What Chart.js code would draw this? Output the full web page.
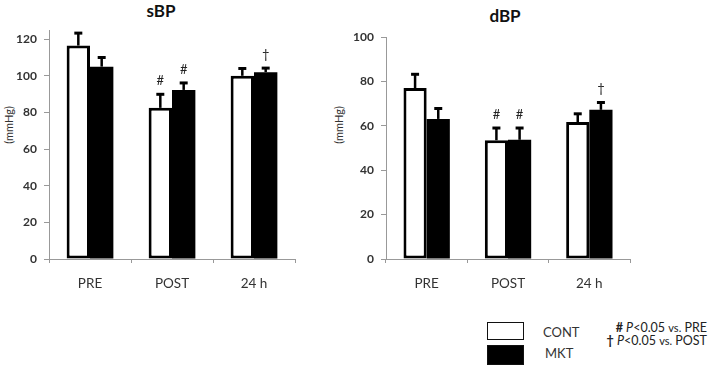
<!DOCTYPE html>
<html>
<head>
<meta charset="utf-8">
<script src="https://cdn.jsdelivr.net/npm/chart.js@4/dist/chart.umd.min.js"></script>
<style>
  html, body { margin: 0; padding: 0; background: #fff; }
  body { width: 709px; height: 365px; position: relative; overflow: hidden; font-family: Lato, "Open Sans", sans-serif; color: #222; }
  .abs { position: absolute; }
  .title { font-weight: bold; font-size: 17px; color: #111; transform: translate(-50%, -50%); white-space: nowrap; }
  .ylab { font-size: 11px; color: #333; transform: translate(-50%, -50%) rotate(-90deg); white-space: nowrap; }
  .box { position: absolute; border: 1.5px solid #111; box-sizing: border-box; }
  .leg { font-size: 13px; color: #333; transform: translateY(-50%); white-space: nowrap; }
  .note { font-size: 12.5px; color: #222; white-space: nowrap; text-align: right; transform: translateY(-50%); }
  .note .s { font-size: 11px; }
</style>
</head>
<body>
<div class="abs title" style="left:161px; top:10px;">sBP</div>
<div class="abs title" style="left:505px; top:15px;">dBP</div>
<div class="abs ylab" style="left:8px; top:125px;">(mmHg)</div>
<div class="abs ylab" style="left:338px; top:125px;">(mmHg)</div>

<canvas id="c1" class="abs" style="left:0; top:0;"></canvas>
<canvas id="c2" class="abs" style="left:330px; top:0;"></canvas>

<div class="box" style="left:487px; top:322px; width:37px; height:18px; background:#fff;"></div>
<div class="box" style="left:487px; top:345px; width:37px; height:20px; background:#000;"></div>
<div class="abs leg" style="left:543px; top:332px;">CONT</div>
<div class="abs leg" style="left:545px; top:353px;">MKT</div>
<div class="abs note" style="right:2px; top:327px;"><b>#</b> <i>P</i>&lt;0.05 <span class="s">vs.</span> PRE</div>
<div class="abs note" style="right:2px; top:340px;"><b>†</b> <i>P</i>&lt;0.05 <span class="s">vs.</span> POST</div>

<script>
const categories = ['PRE', 'POST', '24 h'];
const seriesNames = ['CONT', 'MKT'];

const sbpCont = [116.5, 82.5, 100];
const sbpContErr = [6.8, 7.4, 4];
const sbpMkt = [105, 92.3, 102];
const sbpMktErr = [5, 3.8, 2.2];
const sbpContMarks = ['', '#', ''];
const sbpMktMarks = ['', '#', '†'];
const sbpTicks = [0, 20, 40, 60, 80, 100, 120];

const dbpCont = [77, 53.5, 61.7];
const dbpContErr = [6.2, 5.5, 3.7];
const dbpMkt = [63.1, 53.7, 67.2];
const dbpMktErr = [4.7, 5.3, 3.3];
const dbpContMarks = ['', '#', ''];
const dbpMktMarks = ['', '#', '†'];
const dbpTicks = [0, 20, 40, 60, 80, 100];

const errorBarPlugin = {
  id: 'errorBars',
  afterDatasetsDraw(chart) {
    const ctx = chart.ctx;
    const ys = chart.scales.y;
    chart.data.datasets.forEach((ds, di) => {
      const meta = chart.getDatasetMeta(di);
      meta.data.forEach((bar, i) => {
        const v = ds.data[i];
        const e = ds.errors[i];
        const x = bar.x;
        const yTop = ys.getPixelForValue(v + e);
        const yBar = ys.getPixelForValue(v);
        ctx.save();
        ctx.strokeStyle = '#000';
        ctx.lineWidth = 2.5;
        ctx.beginPath();
        ctx.moveTo(x, yBar);
        ctx.lineTo(x, yTop);
        ctx.stroke();
        ctx.lineWidth = 3;
        ctx.beginPath();
        ctx.moveTo(x - 4, yTop);
        ctx.lineTo(x + 4, yTop);
        ctx.stroke();
        const m = ds.marks[i];
        if (m) {
          ctx.fillStyle = '#222';
          ctx.font = '13px Lato, "Open Sans", sans-serif';
          ctx.textAlign = 'center';
          ctx.textBaseline = 'middle';
          ctx.fillText(m, x, yTop - 13.5);
        }
        ctx.restore();
      });
    });
  }
};

function makeChart(id, w, padTop, padRight, yWidth, yMax, tickVals, cont, contErr, contMarks, mkt, mktErr, mktMarks) {
  const canvas = document.getElementById(id);
  canvas.width = w; canvas.height = 300;
  canvas.style.width = w + 'px'; canvas.style.height = '300px';
  return new Chart(canvas, {
    type: 'bar',
    data: {
      labels: categories,
      datasets: [
        { label: seriesNames[0], data: cont, errors: contErr, marks: contMarks,
          backgroundColor: '#fff', borderColor: '#000', borderWidth: 3, borderSkipped: false },
        { label: seriesNames[1], data: mkt, errors: mktErr, marks: mktMarks,
          backgroundColor: '#000', borderColor: '#000', borderWidth: 0, borderSkipped: false }
      ]
    },
    options: {
      responsive: false,
      animation: false,
      devicePixelRatio: 1,
      layout: { padding: { top: padTop, right: padRight, left: 0, bottom: 0 } },
      datasets: { bar: { categoryPercentage: 0.57, barPercentage: 1.0 } },
      plugins: { legend: { display: false }, tooltip: { enabled: false } },
      scales: {
        x: {
          offset: true,
          grid: { offset: true, drawOnChartArea: false, drawTicks: true, tickLength: 4, color: '#999', lineWidth: 1 },
          border: { display: true, color: '#999', width: 1 },
          ticks: { color: '#333', font: { family: 'Lato, "Open Sans", sans-serif', size: 13.5 }, padding: 13 },
          afterFit(s) { s.height = 41; }
        },
        y: {
          min: 0, max: yMax,
          afterBuildTicks(s) { s.ticks = tickVals.map(v => ({ value: v })); },
          grid: { drawOnChartArea: false, drawTicks: true, tickLength: 5, color: '#999' },
          border: { display: true, color: '#999', width: 1 },
          ticks: { color: '#333', font: { family: 'Lato, "Open Sans", sans-serif', size: 12, weight: 'bold' }, padding: 7 },
          afterFit(s) { s.width = yWidth; }
        }
      }
    },
    plugins: [errorBarPlugin]
  });
}

makeChart('c1', 330, 30, 35, 49, 125, sbpTicks, sbpCont, sbpContErr, sbpContMarks, sbpMkt, sbpMktErr, sbpMktMarks);
makeChart('c2', 310, 37, 10, 56, 100, dbpTicks, dbpCont, dbpContErr, dbpContMarks, dbpMkt, dbpMktErr, dbpMktMarks);
</script>
</body>
</html>
